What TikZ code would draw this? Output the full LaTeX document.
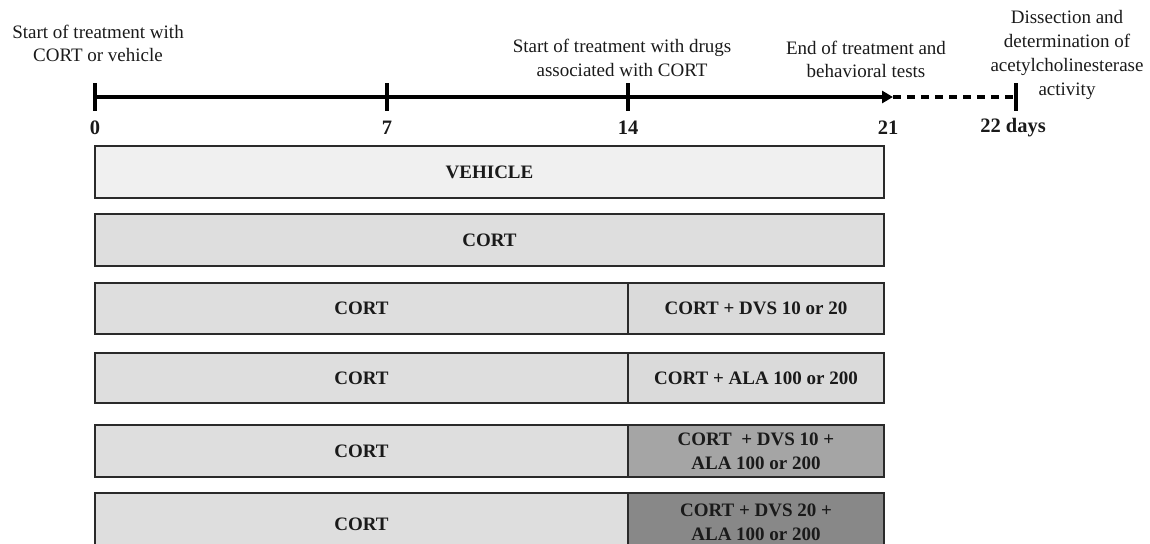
\documentclass[tikz,border=0pt]{standalone}
\usepackage{fontspec}
\setmainfont{Liberation Serif}
\usetikzlibrary{arrows.meta}
\definecolor{vehfill}{HTML}{F0F0F0}
\definecolor{cortfill}{HTML}{DEDEDE}
\definecolor{drugfill}{HTML}{DADADA}
\definecolor{combAfill}{HTML}{A5A5A5}
\definecolor{combBfill}{HTML}{888888}
\definecolor{edgecol}{HTML}{2A2A2A}
\definecolor{txtcol}{HTML}{1A1A1A}
\tikzset{
  note/.style={align=center, inner sep=0pt, text=txtcol, font=\fontsize{19}{23.5}\selectfont},
  daylbl/.style={inner sep=0pt, text=txtcol, font=\fontsize{20.5}{24}\selectfont\bfseries},
  groupbox/.style={draw=edgecol, line width=2pt, inner sep=0pt, align=center, text=txtcol,
    font=\fontsize{19}{24}\selectfont\bfseries},
  fullbox/.style={groupbox, minimum width=789pt},
  leftbox/.style={groupbox, minimum width=533pt},
  rightbox/.style={groupbox, minimum width=256pt},
  tickline/.style={line width=4pt, draw=black},
}
\begin{document}
\begin{tikzpicture}[x=1pt,y=-1pt]
\useasboundingbox (0,0) rectangle (1150,543);
% timeline coordinates
\coordinate (t0) at (95,97);
\coordinate (t7) at (387,97);
\coordinate (t14) at (628,97);
\coordinate (t21) at (893,97);
\coordinate (t22) at (1016,97);
% timeline
\draw[line width=4pt, -{Triangle[length=11pt 0, width=12pt 0]}] (t0) -- (t21);
\draw[line width=3.5pt, dash pattern=on 8pt off 6pt] (t21) -- (t22);
\foreach \t in {t0,t7,t14,t22}{
  \draw[tickline] (\t) ++(0,-14) -- ++(0,28);
}
% day labels
\node[daylbl] (d0) at (95,128) {0};
\node[daylbl] (d7) at (387,128) {7};
\node[daylbl] (d14) at (628,128) {14};
\node[daylbl] (d21) at (888,128) {21};
\node[daylbl] (d22) at (1013,128) {22 days};
% top notes
\node[note] (n0) at (98,43.5) {Start of treatment with\\CORT or vehicle};
\node[note] (n14) at (622,58) {Start of treatment with drugs\\associated with CORT};
\node[note] (n21) at (866,59.5) {End of treatment and\\behavioral tests};
\node[note, font=\fontsize{19}{24}\selectfont] (n22) at (1067,54.5) {Dissection and\\determination of\\acetylcholinesterase\\activity};
% group rows
\node[fullbox, fill=vehfill, minimum height=52pt] (r1) at (489.5,172) {VEHICLE};
\node[fullbox, fill=cortfill, minimum height=52pt] (r2) at (489.5,240) {CORT};
\node[leftbox, fill=cortfill, minimum height=51pt] (r3l) at (361.5,308.5) {CORT};
\node[rightbox, fill=drugfill, minimum height=51pt] (r3r) at (756,308.5) {CORT + DVS 10 or 20};
\node[leftbox, fill=cortfill, minimum height=50pt] (r4l) at (361.5,378) {CORT};
\node[rightbox, fill=drugfill, minimum height=50pt] (r4r) at (756,378) {CORT + ALA 100 or 200};
\node[leftbox, fill=cortfill, minimum height=52pt] (r5l) at (361.5,451) {CORT};
\node[rightbox, fill=combAfill, minimum height=52pt] (r5r) at (756,451) {CORT~ + DVS 10 +\\ALA 100 or 200};
\node[leftbox, fill=cortfill, minimum height=62pt] (r6l) at (361.5,524) {CORT};
\node[rightbox, fill=combBfill, minimum height=62pt] (r6r) at (756,524) {};
\node[align=center, inner sep=0pt, text=txtcol, font=\fontsize{19}{24.5}\selectfont\bfseries] (r6t) at (756,522.5) {CORT + DVS 20 +\\ALA 100 or 200};
\end{tikzpicture}
\end{document}
